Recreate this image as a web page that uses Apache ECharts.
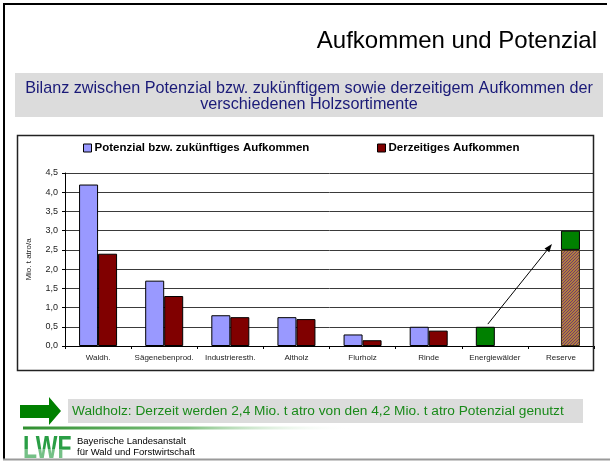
<!DOCTYPE html>
<html>
<head>
<meta charset="utf-8">
<script src="https://cdn.jsdelivr.net/npm/echarts@6/dist/echarts.min.js"></script>
<style>
html,body{margin:0;padding:0;background:#fff;}
#main{width:610px;height:461px;}
</style>
</head>
<body>
<div id="main"></div>
<script>
// ---- data ----
const categories = ['Waldh.', 'Sägenebenprod.', 'Industrieresth.', 'Altholz', 'Flurholz', 'Rinde', 'Energiewälder', 'Reserve'];
const potenzial = [4.2, 1.7, 0.8, 0.75, 0.3, 0.5, 0.5, null];
const derzeitig = [2.4, 1.3, 0.75, 0.7, 0.15, 0.4, null, null];
const reserveBase = [null, null, null, null, null, null, null, 2.5];
const reserveEnergie = [null, null, null, null, null, null, null, 0.5];
const yTicks = [0, 0.5, 1, 1.5, 2, 2.5, 3, 3.5, 4, 4.5];
const seriesNames = ['Potenzial bzw. zukünftiges Aufkommen', 'Derzeitiges Aufkommen'];
const titleText = 'Aufkommen und Potenzial';
const subtitleLines = ['Bilanz zwischen Potenzial bzw. zukünftigem sowie derzeitigem Aufkommen der', 'verschiedenen Holzsortimente'];
const noteText = 'Waldholz: Derzeit werden 2,4 Mio. t atro von den 4,2 Mio. t atro Potenzial genutzt';
const logoLines = ['Bayerische Landesanstalt', 'für Wald und Forstwirtschaft'];
const yAxisName = 'Mio. t atro/a';
const energyCategoryIndex = 6;
const arrowFrom = [6, 0.57];
const arrowTo = [7, 2.65];

// ---- styles ----
const FONT = '"Liberation Sans", Arial, sans-serif';
const BLUE = '#9999ff', RED = '#800000', GREEN = '#008000';

// hatch pattern
const pc = document.createElement('canvas');
pc.width = 3; pc.height = 3;
const g = pc.getContext('2d');
g.fillStyle = '#b0803e'; g.fillRect(0, 0, 3, 3);
g.fillStyle = '#74386e';
g.fillRect(2, 0, 1, 1); g.fillRect(1, 1, 1, 1); g.fillRect(0, 2, 1, 1);

const chart = echarts.init(document.getElementById('main'), null, {renderer: 'canvas'});

const barBorder = {borderColor: '#000', borderWidth: 1};
const legendText = {fontFamily: FONT, fontSize: 11.5, fontWeight: 'bold', color: '#000', padding: [0, 0, 0, -2]};

const option = {
  backgroundColor: '#fff',
  animation: false,
  textStyle: {fontFamily: FONT},
  legend: [
    {
      data: [{name: seriesNames[0], icon: 'rect', itemStyle: {borderColor: '#000', borderWidth: 1}}],
      top: 137, left: 78, itemWidth: 8, itemHeight: 8,
      textStyle: legendText, selectedMode: false
    },
    {
      data: [{name: seriesNames[1], icon: 'rect', itemStyle: {borderColor: '#000', borderWidth: 1}}],
      top: 137, left: 372, itemWidth: 8, itemHeight: 8,
      textStyle: legendText, selectedMode: false
    }
  ],
  grid: {left: 65, right: 16, top: 173, bottom: 115, containLabel: false},
  xAxis: {
    type: 'category',
    data: categories,
    axisLine: {lineStyle: {color: '#000', width: 1}},
    axisTick: {show: true, length: 3, lineStyle: {color: '#000'}},
    axisLabel: {fontFamily: FONT, fontSize: 8, color: '#222', margin: 8, interval: 0}
  },
  yAxis: {
    type: 'value',
    min: 0, max: 4.5, interval: 0.5,
    name: yAxisName,
    nameLocation: 'middle',
    nameGap: 32,
    nameRotate: 90,
    nameTextStyle: {fontFamily: FONT, fontSize: 8, color: '#222'},
    axisLine: {show: true, lineStyle: {color: '#000', width: 1}},
    axisTick: {show: true, length: 3, lineStyle: {color: '#000'}},
    axisLabel: {fontFamily: FONT, fontSize: 9, color: '#222', margin: 7,
      formatter: v => yTicks.indexOf(v) >= 0 ? v.toFixed(1).replace('.', ',') : ''},
    splitLine: {show: true, lineStyle: {color: '#3a3a3a', width: 1}}
  },
  series: [
    {
      name: seriesNames[0], type: 'bar', barWidth: 19, barGap: '0%',
      itemStyle: Object.assign({color: BLUE}, barBorder),
      data: potenzial.map((v, i) => i === energyCategoryIndex ? {value: v, itemStyle: {color: GREEN}} : v)
    },
    {
      name: seriesNames[1], type: 'bar', barWidth: 19, barGap: '0%', stack: 'cur',
      itemStyle: Object.assign({color: RED}, barBorder),
      data: derzeitig
    },
    {
      name: 'Reserve', type: 'bar', barWidth: 19, stack: 'cur',
      itemStyle: {color: {image: pc, repeat: 'repeat'}, borderColor: '#3a2a10', borderWidth: 1},
      data: reserveBase
    },
    {
      name: 'Reserve Energie', type: 'bar', barWidth: 19, stack: 'cur',
      itemStyle: Object.assign({color: GREEN}, barBorder),
      data: reserveEnergie
    }
  ]
};

chart.setOption(option);

const p1 = chart.convertToPixel({gridIndex: 0}, arrowFrom);
const p2 = chart.convertToPixel({gridIndex: 0}, arrowTo);
const sx = p1[0] - 7, sy = p1[1];
const ex = p2[0] - 9, ey = p2[1];
const ang = Math.atan2(ey - sy, ex - sx);
const hl = 8, hw = 3;
const bx = ex - hl * Math.cos(ang), by = ey - hl * Math.sin(ang);
const head = [[ex, ey],
  [bx + hw * Math.sin(ang), by - hw * Math.cos(ang)],
  [bx - hw * Math.sin(ang), by + hw * Math.cos(ang)]];

const graphics = [
  // outer slide borders
  {type: 'line', shape: {x1: 4, y1: 3, x2: 4, y2: 460}, style: {stroke: '#000', lineWidth: 2}, silent: true},
  {type: 'line', shape: {x1: 3, y1: 4, x2: 607, y2: 4}, style: {stroke: '#000', lineWidth: 2}, silent: true},
  {type: 'line', shape: {x1: 3, y1: 459.5, x2: 610, y2: 459.5}, style: {stroke: '#9a9a9a', lineWidth: 2}, silent: true},
  // title
  {type: 'text', right: 13, top: 29, style: {text: titleText, font: '24px ' + FONT, fill: '#000'}, silent: true},
  // subtitle box
  {type: 'rect', shape: {x: 15, y: 73, width: 588, height: 44}, style: {fill: '#dcdcdc'}, silent: true},
  {type: 'text', x: 309, y: 96.5, style: {text: subtitleLines.join('\n'), font: '16.2px ' + FONT, fill: '#1a1a78', align: 'center', verticalAlign: 'middle', lineHeight: 16.5}, silent: true},
  // chart frame
  {type: 'rect', shape: {x: 17.5, y: 135.5, width: 576, height: 235}, style: {fill: 'none', stroke: '#222', lineWidth: 1.5}, z: 10, silent: true},
  // arrow in chart
  {type: 'line', shape: {x1: sx, y1: sy, x2: bx, y2: by}, style: {stroke: '#000', lineWidth: 1}, z: 20, silent: true},
  {type: 'polygon', shape: {points: head}, style: {fill: '#000'}, z: 20, silent: true},
  // green block arrow
  {type: 'polygon', shape: {points: [[20, 405], [49, 405], [49, 397], [61, 411], [49, 425], [49, 418], [20, 418]]}, style: {fill: GREEN}, silent: true},
  // note box
  {type: 'rect', shape: {x: 68, y: 399, width: 515, height: 24}, style: {fill: '#dcdcdc'}, silent: true},
  {type: 'text', x: 72, y: 411.5, style: {text: noteText, font: '13.7px ' + FONT, fill: '#1a8a1a', verticalAlign: 'middle'}, silent: true},
  // gradient line
  {type: 'rect', shape: {x: 23, y: 426.5, width: 330, height: 3},
    style: {fill: new echarts.graphic.LinearGradient(0, 0, 1, 0, [{offset: 0, color: '#2f8f2f'}, {offset: 0.5, color: '#7fc07f'}, {offset: 1, color: 'rgba(255,255,255,0)'}])}, silent: true},
  // logo
  {type: 'text', x: 23, y: 434, scaleX: 0.74, scaleY: 1,
    style: {text: 'LWF', font: 'bold 31px ' + FONT, fill: '#2a9e45', verticalAlign: 'top'}, silent: true},
  {type: 'rect', shape: {x: 22, y: 449, width: 51, height: 9}, style: {fill: 'rgba(255,255,255,0.35)'}, z: 5, silent: true},
  {type: 'text', x: 77, y: 441.5, style: {text: logoLines[0], font: '9.5px ' + FONT, fill: '#000', verticalAlign: 'middle'}, silent: true},
  {type: 'text', x: 77, y: 452, style: {text: logoLines[1], font: '9.5px ' + FONT, fill: '#000', verticalAlign: 'middle'}, silent: true}
];

chart.setOption({graphic: graphics});
</script>
</body>
</html>
